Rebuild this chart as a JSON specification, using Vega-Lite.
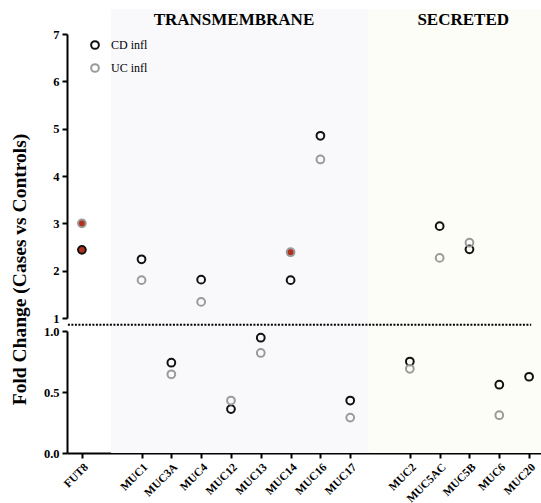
{
  "$schema": "https://vega.github.io/schema/vega-lite/v6.json",
  "padding": {"left": 9, "top": 8, "right": 0, "bottom": 0},
  "background": "white",
  "bounds": "flush",
  "data": {"values": [
    {"gene": "FUT8", "series": "CD infl", "fc": 2.44, "sig": true},
    {"gene": "FUT8", "series": "UC infl", "fc": 3.0, "sig": true},
    {"gene": "MUC1", "series": "CD infl", "fc": 2.24, "sig": false},
    {"gene": "MUC1", "series": "UC infl", "fc": 1.8, "sig": false},
    {"gene": "MUC3A", "series": "CD infl", "fc": 0.74, "sig": false},
    {"gene": "MUC3A", "series": "UC infl", "fc": 0.645, "sig": false},
    {"gene": "MUC4", "series": "CD infl", "fc": 1.81, "sig": false},
    {"gene": "MUC4", "series": "UC infl", "fc": 1.34, "sig": false},
    {"gene": "MUC12", "series": "CD infl", "fc": 0.36, "sig": false},
    {"gene": "MUC12", "series": "UC infl", "fc": 0.43, "sig": false},
    {"gene": "MUC13", "series": "CD infl", "fc": 0.945, "sig": false},
    {"gene": "MUC13", "series": "UC infl", "fc": 0.82, "sig": false},
    {"gene": "MUC14", "series": "CD infl", "fc": 1.8, "sig": false},
    {"gene": "MUC14", "series": "UC infl", "fc": 2.39, "sig": true},
    {"gene": "MUC16", "series": "CD infl", "fc": 4.85, "sig": false},
    {"gene": "MUC16", "series": "UC infl", "fc": 4.35, "sig": false},
    {"gene": "MUC17", "series": "CD infl", "fc": 0.43, "sig": false},
    {"gene": "MUC17", "series": "UC infl", "fc": 0.29, "sig": false},
    {"gene": "MUC2", "series": "CD infl", "fc": 0.75, "sig": false},
    {"gene": "MUC2", "series": "UC infl", "fc": 0.69, "sig": false},
    {"gene": "MUC5AC", "series": "CD infl", "fc": 2.94, "sig": false},
    {"gene": "MUC5AC", "series": "UC infl", "fc": 2.27, "sig": false},
    {"gene": "MUC5B", "series": "CD infl", "fc": 2.45, "sig": false},
    {"gene": "MUC5B", "series": "UC infl", "fc": 2.59, "sig": false},
    {"gene": "MUC6", "series": "CD infl", "fc": 0.56, "sig": false},
    {"gene": "MUC6", "series": "UC infl", "fc": 0.31, "sig": false},
    {"gene": "MUC20", "series": "CD infl", "fc": 0.625, "sig": false}
  ]},
  "spacing": 13,
  "resolve": {"scale": {"x": "independent", "y": "independent", "stroke": "shared"}},
  "config": {
    "view": {"stroke": null},
    "font": "Liberation Serif",
    "axis": {
      "domainColor": "black", "domainWidth": 2, "tickColor": "black", "tickWidth": 2, "tickSize": 5,
      "labelFont": "Liberation Serif", "labelFontWeight": "bold", "labelColor": "black", "labelFontSize": 13,
      "titleFont": "Liberation Serif", "titleFontWeight": "bold", "titleColor": "black", "grid": false
    }
  },
  "vconcat": [
    {
      "width": 477, "height": 284,
      "layer": [
        {"data": {"values": [{}]}, "mark": {"type": "rect", "color": "#f9f9fc"},
         "encoding": {
           "x": {"datum": 0.98, "type": "quantitative", "scale": {"domain": [-0.5, 15.5], "nice": false, "zero": false}, "axis": null},
           "x2": {"datum": 9.6},
           "y": {"datum": 7.53, "type": "quantitative", "scale": {"domain": [1, 7], "nice": false, "zero": false}},
           "y2": {"datum": 0.855}}},
        {"data": {"values": [{}]}, "mark": {"type": "rect", "color": "#fdfdf7"},
         "encoding": {
           "x": {"datum": 9.6, "type": "quantitative", "scale": {"domain": [-0.5, 15.5], "nice": false, "zero": false}, "axis": null},
           "x2": {"datum": 15.6},
           "y": {"datum": 7.53, "type": "quantitative", "scale": {"domain": [1, 7], "nice": false, "zero": false}},
           "y2": {"datum": 0.855}}},
        {"data": {"values": [{"label": "TRANSMEMBRANE", "pos": 5.1}, {"label": "SECRETED", "pos": 12.79}]},
         "mark": {"type": "text", "font": "Liberation Serif", "fontWeight": "bold", "fontSize": 17, "color": "black", "baseline": "middle"},
         "encoding": {
           "x": {"field": "pos", "type": "quantitative", "scale": {"domain": [-0.5, 15.5], "nice": false, "zero": false}, "axis": null},
           "y": {"datum": 7.3, "type": "quantitative", "scale": {"domain": [1, 7], "nice": false, "zero": false}},
           "text": {"field": "label"}}},
        {"transform": [{"filter": "datum.fc > 1"}],
         "mark": {"type": "point", "shape": "circle", "filled": true, "size": 60, "strokeWidth": 2, "opacity": 1},
         "encoding": {
           "x": {"field": "gene", "type": "nominal", "sort": null,
                 "scale": {"type": "point", "padding": 0.5, "domain": ["FUT8", " ", "MUC1", "MUC3A", "MUC4", "MUC12", "MUC13", "MUC14", "MUC16", "MUC17", "  ", "MUC2", "MUC5AC", "MUC5B", "MUC6", "MUC20"]},
                 "axis": null},
           "y": {"field": "fc", "type": "quantitative", "scale": {"domain": [1, 7], "nice": false, "zero": false},
                 "axis": {"values": [1, 2, 3, 4, 5, 6, 7], "format": "d", "title": "Fold Change (Cases vs Controls)", "titleFontSize": 19.5, "titleX": -38, "titleY": 235, "labelPadding": 3, "labelFontSize": 12.5}},
           "stroke": {"field": "series", "type": "nominal",
                      "scale": {"domain": ["CD infl", "UC infl"], "range": ["#111111", "#9a9a9a"]},
                      "legend": {"orient": "none", "legendX": 22, "legendY": 5, "title": null, "labelFont": "Liberation Serif", "labelFontSize": 12, "labelColor": "black", "symbolType": "circle", "symbolSize": 60, "symbolStrokeWidth": 2, "symbolFillColor": "transparent", "rowPadding": 7, "labelOffset": 10}},
           "fill": {"condition": {"test": "datum.sig", "value": "#b3301f"}, "value": "transparent"}}}
      ],
      "resolve": {"scale": {"x": "independent"}}
    },
    {
      "width": 477, "height": 122,
      "layer": [
        {"data": {"values": [{}]}, "mark": {"type": "rect", "color": "#f9f9fc"},
         "encoding": {
           "x": {"datum": 0.98, "type": "quantitative", "scale": {"domain": [-0.5, 15.5], "nice": false, "zero": false}, "axis": null},
           "x2": {"datum": 9.6},
           "y": {"datum": 1.055, "type": "quantitative", "scale": {"domain": [0, 1], "nice": false, "zero": false}},
           "y2": {"datum": 0}}},
        {"data": {"values": [{}]}, "mark": {"type": "rect", "color": "#fdfdf7"},
         "encoding": {
           "x": {"datum": 9.6, "type": "quantitative", "scale": {"domain": [-0.5, 15.5], "nice": false, "zero": false}, "axis": null},
           "x2": {"datum": 15.6},
           "y": {"datum": 1.055, "type": "quantitative", "scale": {"domain": [0, 1], "nice": false, "zero": false}},
           "y2": {"datum": 0}}},
        {"data": {"values": [{}]}, "mark": {"type": "rule", "color": "black", "strokeWidth": 2, "strokeDash": [2, 1.5]},
         "encoding": {
           "x": {"datum": -0.47, "type": "quantitative", "scale": {"domain": [-0.5, 15.5], "nice": false, "zero": false}, "axis": null},
           "x2": {"datum": 15.07},
           "y": {"datum": 1.052, "type": "quantitative", "scale": {"domain": [0, 1], "nice": false, "zero": false}}}},
        {"transform": [{"filter": "datum.fc < 1"}],
         "mark": {"type": "point", "shape": "circle", "filled": true, "size": 60, "strokeWidth": 2, "opacity": 1},
         "encoding": {
           "x": {"field": "gene", "type": "nominal", "sort": null,
                 "scale": {"type": "point", "padding": 0.5, "domain": ["FUT8", " ", "MUC1", "MUC3A", "MUC4", "MUC12", "MUC13", "MUC14", "MUC16", "MUC17", "  ", "MUC2", "MUC5AC", "MUC5B", "MUC6", "MUC20"]},
                 "axis": {"title": null, "labelAngle": -45, "labelFontSize": 11.5, "labelPadding": 3,
                          "tickColor": {"condition": {"test": "trim(datum.value) == ''", "value": "transparent"}, "value": "black"}}},
           "y": {"field": "fc", "type": "quantitative", "scale": {"domain": [0, 1], "nice": false, "zero": false},
                 "axis": {"values": [0, 0.5, 1], "format": ".1f", "title": null, "labelPadding": 3, "labelFontSize": 12.5}},
           "stroke": {"field": "series", "type": "nominal",
                      "scale": {"domain": ["CD infl", "UC infl"], "range": ["#111111", "#9a9a9a"]}},
           "fill": {"condition": {"test": "datum.sig", "value": "#b3301f"}, "value": "transparent"}}}
      ],
      "resolve": {"scale": {"x": "independent"}}
    }
  ]
}
